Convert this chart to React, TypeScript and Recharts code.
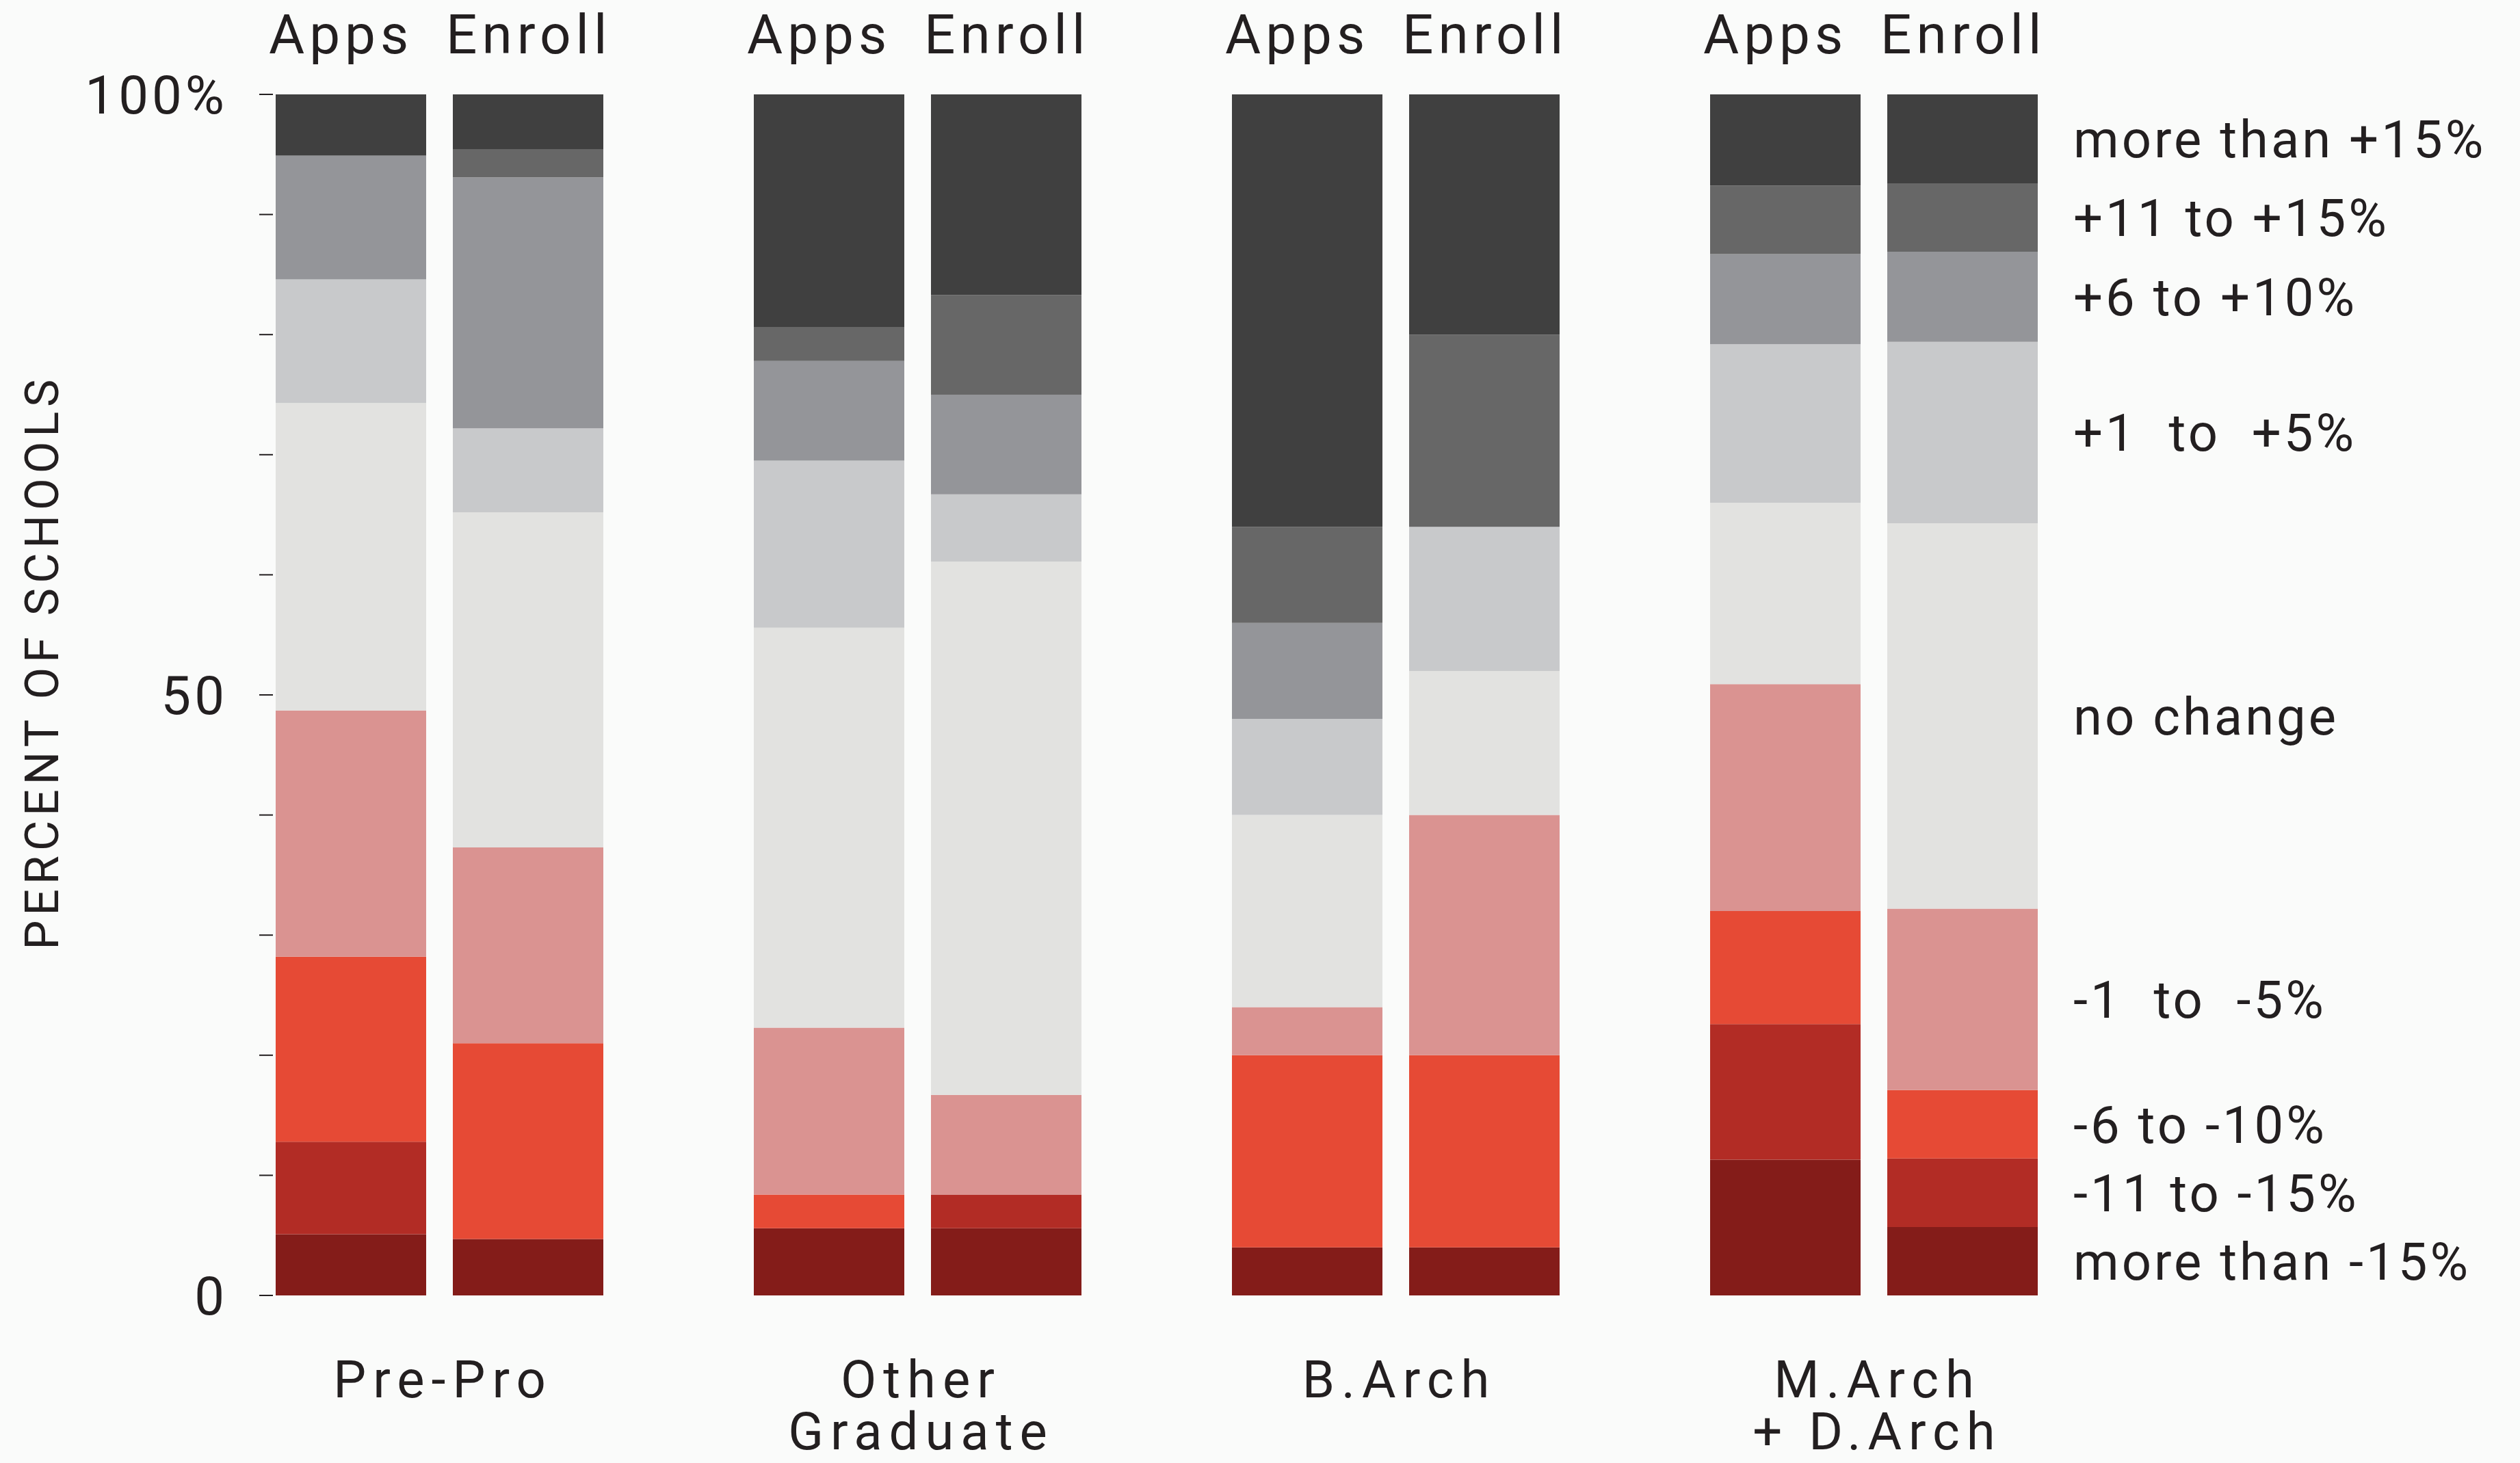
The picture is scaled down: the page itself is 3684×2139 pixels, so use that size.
import React from 'react';
import { BarChart, Bar, XAxis, YAxis, LabelList } from 'recharts';

// categories along the x axis ("|" = line break)
const groups = ['Pre-Pro', 'Other|Graduate', 'B.Arch', 'M.Arch|+ D.Arch'];

// change bins, bottom of the stack first
const bins = [
  'more than -15%',
  '-11 to -15%',
  '-6 to -10%',
  '-1  to  -5%',
  'no change',
  '+1  to  +5%',
  '+6 to +10%',
  '+11 to +15%',
  'more than +15%',
];
const binColors = ['#841c19', '#b22c25', '#e64a35', '#da9391', '#e2e2e0', '#c8c9cb', '#949599', '#676767', '#404040'];

// percent of schools in each bin, same order as bins
const preProApps = [5.1, 7.7, 15.4, 20.5, 25.6, 10.3, 10.3, 0, 5.1];
const preProEnroll = [4.7, 0, 16.3, 16.3, 27.9, 7.0, 20.9, 2.3, 4.6];
const otherGradApps = [5.6, 0, 2.8, 13.9, 33.3, 13.9, 8.3, 2.8, 19.4];
const otherGradEnroll = [5.6, 2.8, 0, 8.3, 44.4, 5.6, 8.3, 8.3, 16.7];
const bArchApps = [4, 0, 16, 4, 16, 8, 8, 8, 36];
const bArchEnroll = [4, 0, 16, 20, 12, 12, 0, 16, 20];
const mArchApps = [11.3, 11.3, 9.4, 18.9, 15.1, 13.2, 7.5, 5.7, 7.6];
const mArchEnroll = [5.7, 5.7, 5.7, 15.1, 32.1, 15.1, 7.5, 5.7, 7.4];

const appsRows = [preProApps, otherGradApps, bArchApps, mArchApps];
const enrollRows = [preProEnroll, otherGradEnroll, bArchEnroll, mArchEnroll];

const yTicks = [0, 10, 20, 30, 40, 50, 60, 70, 80, 90, 100];
const yTickLabels: Record<number, string> = { 0: '0', 50: '50', 100: '100%' };

const data = groups.map((group, g) => {
  const row: Record<string, string | number> = { group };
  bins.forEach((_, b) => {
    row[`a${b}`] = appsRows[g][b];
    row[`e${b}`] = enrollRows[g][b];
  });
  return row;
});

const INK = '#231f20';
const FONT = 'Roboto, "DejaVu Sans", sans-serif';
const lastGroup = groups[groups.length - 1];

const box = (props: any) => {
  const vb = props.viewBox && props.viewBox.width !== undefined ? props.viewBox : props;
  return { x: Number(vb.x), y: Number(vb.y), width: Number(vb.width), height: Number(vb.height) };
};

const CategoryTick = (props: any) => {
  const { x, y, payload } = props;
  const lines = String(payload.value).split('|');
  return (
    <g transform={`translate(${x},${y})`}>
      <text textAnchor="middle" fill={INK} fontSize={76} fontFamily={FONT} letterSpacing={10} style={{ whiteSpace: 'pre' }}>
        {lines.map((l, i) => (
          <tspan key={i} x={5} y={149 + i * 76}>{l}</tspan>
        ))}
      </text>
    </g>
  );
};

const topLabel = (text: string) => (props: any) => {
  const { x, y } = box(props);
  return (
    <text x={x - 10} y={y - 60} fill={INK} fontSize={80} fontFamily={FONT} letterSpacing={7}>
      {text}
    </text>
  );
};

// bin names to the right of the last Enroll stack
const legendLabel = (b: number) => (props: any) => {
  if (props.value !== lastGroup) return null;
  const { x, y, width, height } = box(props);
  return (
    <text x={x + width + 52} y={y + height / 2 + 27} fill={INK} fontSize={76} fontFamily={FONT} letterSpacing={4} style={{ whiteSpace: 'pre' }}>
      {bins[b]}
    </text>
  );
};

const yAxisTitle = (props: any) => {
  const { y, height } = box(props);
  const cy = y + height / 2 - 48;
  return (
    <text x={62} y={cy} transform={`rotate(-90, 62, ${cy})`} textAnchor="middle" dominantBaseline="central" fill={INK} fontSize={68} fontFamily={FONT} letterSpacing={7}>
      PERCENT OF SCHOOLS
    </text>
  );
};

export default function App() {
  return (
    <div style={{ position: 'absolute', left: 0, top: 0, width: 3684, height: 2139, background: '#fafbfa' }}>
      <BarChart
        width={3684}
        height={2139}
        data={data}
        margin={{ top: 138, right: 595, bottom: 0, left: 0 }}
        barSize={220}
        barGap={39}
      >
        <XAxis
          dataKey="group"
          axisLine={false}
          tickLine={false}
          tickSize={0}
          tickMargin={0}
          height={245}
          interval={0}
          padding={{ left: -106, right: 0 }}
          tick={<CategoryTick />}
        />
        <YAxis
          width={399}
          domain={[0, 100]}
          allowDataOverflow
          ticks={yTicks}
          interval={0}
          tickSize={20}
          tickMargin={46}
          axisLine={false}
          tickLine={{ stroke: INK, strokeWidth: 2 }}
          tick={{ fill: INK, fontSize: 78, fontFamily: FONT, letterSpacing: 5 }}
          tickFormatter={(v: number) => yTickLabels[v] ?? ''}
          label={{ content: yAxisTitle }}
        />
        {bins.map((_, b) => (
          <Bar key={`a${b}`} dataKey={`a${b}`} stackId="apps" fill={binColors[b]} isAnimationActive={false}>
            {b === bins.length - 1 && <LabelList dataKey={`a${b}`} content={topLabel('Apps')} />}
          </Bar>
        ))}
        {bins.map((_, b) => (
          <Bar key={`e${b}`} dataKey={`e${b}`} stackId="enroll" fill={binColors[b]} isAnimationActive={false}>
            {b === bins.length - 1 && <LabelList dataKey={`e${b}`} content={topLabel('Enroll')} />}
            <LabelList dataKey={(row: any) => row.group} content={legendLabel(b)} />
          </Bar>
        ))}
      </BarChart>
    </div>
  );
}
